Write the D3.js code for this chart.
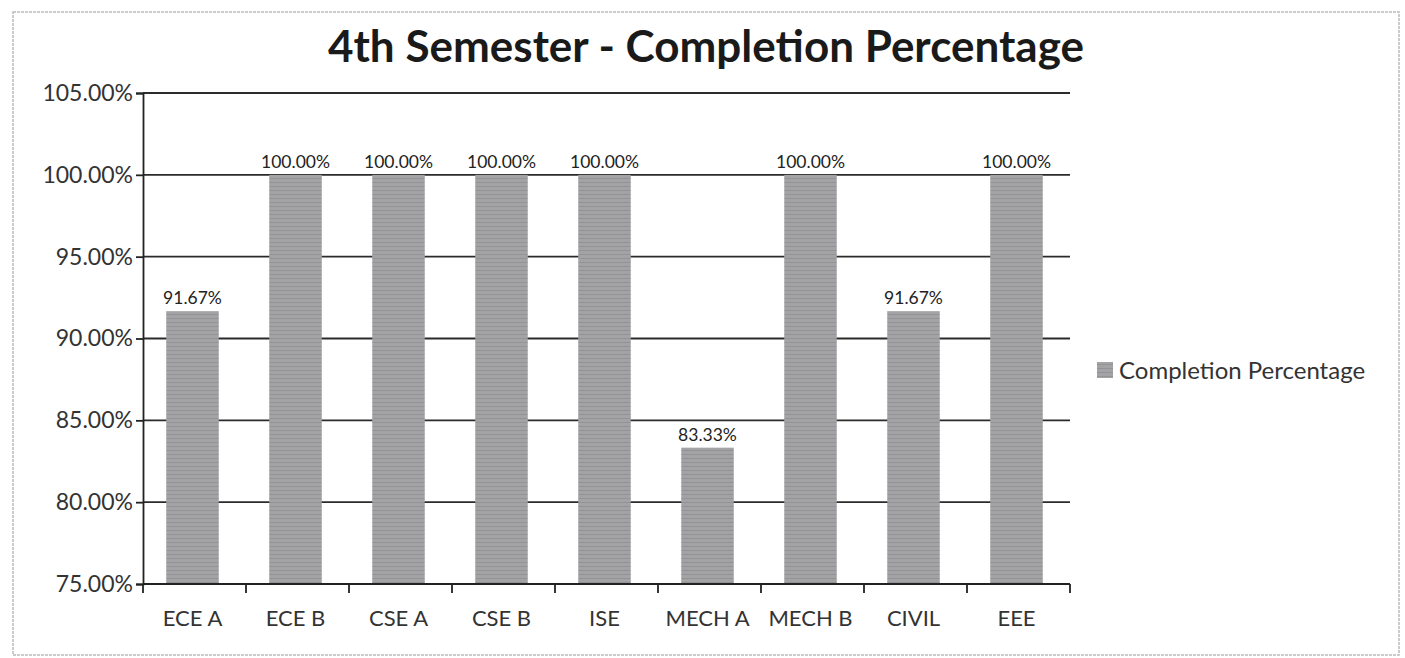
<!DOCTYPE html>
<html>
<head>
<meta charset="utf-8">
<script src="https://cdn.jsdelivr.net/npm/d3@7"></script>
<style>
  body { margin: 0; background: #fff; }
  text { font-family: Lato, "Open Sans", sans-serif; }
</style>
</head>
<body>
<div class="canvas"></div>
<script>
// data
const sections = ['ECE A', 'ECE B', 'CSE A', 'CSE B', 'ISE', 'MECH A', 'MECH B', 'CIVIL', 'EEE'];
const completion = [91.67, 100, 100, 100, 100, 83.33, 100, 91.67, 100];
const yTicks = [75, 80, 85, 90, 95, 100, 105];

const dims = {width: 1405, height: 658};
const plot = {left: 143, right: 1070, top: 93, bottom: 584};

const svg = d3.select('.canvas')
    .append('svg')
    .attr('width', dims.width)
    .attr('height', dims.height);

// striped grey fill like the print
const defs = svg.append('defs');
const pat = defs.append('pattern')
    .attr('id', 'stripes')
    .attr('patternUnits', 'userSpaceOnUse')
    .attr('width', 8).attr('height', 4);
pat.append('rect').attr('width', 8).attr('height', 4).attr('fill', '#a3a3a5');
pat.append('rect').attr('y', 2).attr('width', 8).attr('height', 1).attr('fill', '#939395');

// outer frame
svg.append('rect')
    .attr('x', 13).attr('y', 12)
    .attr('width', 1386).attr('height', 643)
    .attr('fill', 'none')
    .attr('stroke', '#bbb')
    .attr('stroke-width', 1.5)
    .attr('stroke-dasharray', '3,1');

// title
svg.append('text')
    .attr('x', 706).attr('y', 62)
    .attr('text-anchor', 'middle')
    .attr('font-size', 44)
    .attr('font-weight', 'bold')
    .attr('fill', '#1a1a1a')
    .text('4th Semester - Completion Percentage');

const x = d3.scaleBand()
    .domain(sections)
    .range([plot.left, plot.right])
    .paddingInner(0.49)
    .paddingOuter(0.245);

const y = d3.scaleLinear()
    .domain([75, 105])
    .range([plot.bottom, plot.top]);

const graph = svg.append('g');

// gridlines
graph.selectAll('.grid')
    .data(yTicks.filter(d => d > 75))
    .enter()
    .append('line')
    .attr('class', 'grid')
    .attr('x1', plot.left).attr('x2', plot.right)
    .attr('y1', d => y(d)).attr('y2', d => y(d))
    .attr('stroke', '#2b2b2b')
    .attr('stroke-width', 1.8);

// bars
graph.selectAll('.bar')
    .data(completion)
    .enter()
    .append('rect')
    .attr('class', 'bar')
    .attr('x', (d, i) => x(sections[i]) - 2)
    .attr('y', d => y(d))
    .attr('width', x.bandwidth())
    .attr('height', d => y(75) - y(d))
    .attr('fill', 'url(#stripes)');

// data labels
graph.selectAll('.lbl')
    .data(completion)
    .enter()
    .append('text')
    .attr('class', 'lbl')
    .attr('x', (d, i) => x(sections[i]) + x.bandwidth() / 2 - 2)
    .attr('y', d => y(d) - 7)
    .attr('text-anchor', 'middle')
    .attr('font-size', 17.5)
    .attr('fill', '#222')
    .text(d => d.toFixed(2) + '%');

// y axis
const yAxis = d3.axisLeft(y)
    .tickValues(yTicks)
    .tickSize(7)
    .tickFormat(d => d.toFixed(2) + '%');
const yg = svg.append('g')
    .attr('transform', `translate(${plot.left},0)`)
    .call(yAxis);
yg.select('.domain').attr('stroke', '#222').attr('stroke-width', 1.8);
yg.selectAll('.tick line').attr('stroke', '#222').attr('stroke-width', 1.8);
yg.selectAll('.tick text')
    .attr('font-size', 23)
    .attr('fill', '#333')
    .attr('x', -10)
    .style('font-family', 'Lato, "Open Sans", sans-serif');

// x axis with ticks between categories
const xg = svg.append('g')
    .attr('transform', `translate(0,${plot.bottom})`);
xg.append('line')
    .attr('x1', plot.left).attr('x2', plot.right)
    .attr('stroke', '#222').attr('stroke-width', 1.8);
const edges = d3.range(sections.length + 1).map(i => plot.left + i * (plot.right - plot.left) / sections.length);
xg.selectAll('.xt')
    .data(edges)
    .enter()
    .append('line')
    .attr('class', 'xt')
    .attr('x1', d => d).attr('x2', d => d)
    .attr('y1', 0).attr('y2', 9)
    .attr('stroke', '#222').attr('stroke-width', 1.8);
xg.selectAll('.xl')
    .data(sections)
    .enter()
    .append('text')
    .attr('class', 'xl')
    .attr('x', d => x(d) + x.bandwidth() / 2 - 2)
    .attr('y', 42)
    .attr('text-anchor', 'middle')
    .attr('font-size', 22)
    .attr('fill', '#333')
    .text(d => d);

// legend
const legend = svg.append('g').attr('transform', 'translate(1097,362)');
legend.append('rect')
    .attr('width', 16).attr('height', 16)
    .attr('fill', 'url(#stripes)');
legend.append('text')
    .attr('x', 22).attr('y', 17)
    .attr('font-size', 24)
    .attr('fill', '#333')
    .text('Completion Percentage');
</script>
</body>
</html>
